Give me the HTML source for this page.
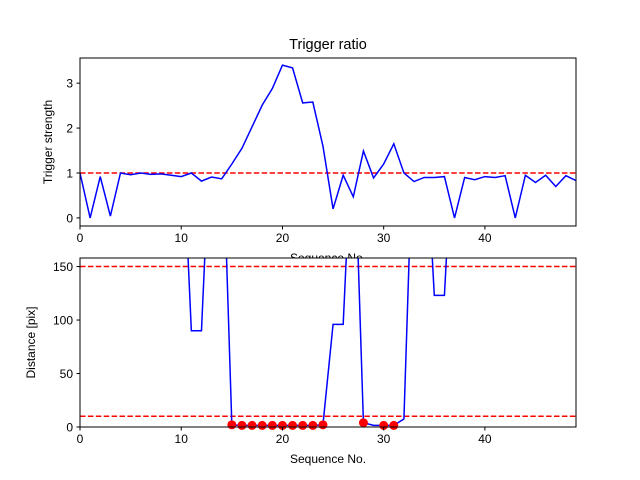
<!DOCTYPE html>
<html><head><meta charset="utf-8"><style>
body{margin:0;background:#fff}
svg{display:block;font-family:"Liberation Sans","DejaVu Sans",sans-serif}
</style></head><body>
<svg id="fig" width="640" height="480"></svg>
<script>
const seqIdx = Array.from({length:50},(_,i)=>i);
const triggerValues = [1.0,0.0,0.92,0.04,1.0,0.96,1.0,0.97,0.98,0.95,0.92,1.0,0.82,0.91,0.87,1.2,1.55,2.03,2.51,2.88,3.4,3.34,2.56,2.58,1.6,0.2,0.95,0.47,1.49,0.89,1.2,1.65,1.0,0.81,0.9,0.9,0.92,0.0,0.9,0.85,0.92,0.9,0.94,0.0,0.95,0.79,0.95,0.7,0.94,0.83];
const distanceValues = [300,300,300,300,300,300,300,300,300,300,300,90,90,300,300,2,1.5,1.5,1.5,1.5,1.5,1.5,1.5,1.5,2,96,96,300,4,1.5,1.5,1.5,7.5,300,300,123,123,300,300,300,300,300,300,300,300,300,300,300,300,300];
const markerIdx = [15,16,17,18,19,20,21,22,23,24,28,30,31];
const topYTicks = [0,1,2,3];
const botYTicks = [0,50,100,150];
const xTicks = [0,10,20,30,40];
const triggerThreshold = 1;
const distThresholds = [150,10];

const NS="http://www.w3.org/2000/svg", svg=document.getElementById('fig');
function el(tag,attrs,parent){const e=document.createElementNS(NS,tag);for(const k in attrs)e.setAttribute(k,attrs[k]);(parent||svg).appendChild(e);return e;}
const X0=80,X1=576,xMax=49;
const sx=v=>X0+(v/xMax)*(X1-X0);

function axes(name,top,bot,yMin,yMax,yTicks,values,thresholds,xlabel,ylabel,markers){
  const sy=v=>bot-(v-yMin)/(yMax-yMin)*(bot-top);
  const g=el('g',{});
  
  
  el('rect',{x:X0,y:top,width:X1-X0,height:bot-top,fill:'#fff'},g);
  const cp=el('clipPath',{id:'cp'+name},g);
  el('rect',{x:X0,y:top,width:X1-X0,height:bot-top},cp);
  const inner=el('g',{'clip-path':'url(#cp'+name+')'},g);
  thresholds.forEach(t=>{
    const l=el('line',{x1:X0,x2:X1,y1:sy(t),y2:sy(t),stroke:'#f00','stroke-width':1.5,'stroke-dasharray':'5.5,2.4'},inner);
    
    
  });
  const pts=values.map((v,i)=>sx(seqIdx[i])+','+sy(v)).join(' ');
  const pl=el('polyline',{points:pts,fill:'none',stroke:'#00f','stroke-width':1.5},inner);
  
  
  (markers||[]).forEach(i=>{
    const c=el('circle',{cx:sx(i),cy:sy(values[i]),r:4.5,fill:'#f00'},g);
    
    
  });
  el('rect',{x:X0,y:top,width:X1-X0,height:bot-top,fill:'none',stroke:'#000','stroke-width':1},g);
  xTicks.forEach(t=>{
    el('line',{x1:sx(t),x2:sx(t),y1:bot,y2:bot+3.5,stroke:'#000'},g);
    const tx=el('text',{x:sx(t),y:bot+16,'font-size':12,'text-anchor':'middle'},g);
    tx.textContent=t;
    
    
  });
  yTicks.forEach(t=>{
    el('line',{x1:X0,x2:X0-3.5,y1:sy(t),y2:sy(t),stroke:'#000'},g);
    const tx=el('text',{x:X0-7,y:sy(t)+4.5,'font-size':12,'text-anchor':'end'},g);
    tx.textContent=t;
    
    
  });
  const xl=el('text',{x:(X0+X1)/2,y:bot+36,'font-size':12,'text-anchor':'middle'});
  xl.textContent=xlabel;
  
  
  const yl=el('text',{x:0,y:0,'font-size':12,'text-anchor':'middle',transform:'translate('+(name==='trigger'?52:35)+','+((top+bot)/2)+') rotate(-90)'},g);
  yl.textContent=ylabel;
  
  
  return g;
}
const t=el('text',{x:328,y:49,'font-size':14.5,'text-anchor':'middle'});
t.textContent='Trigger ratio';


axes('trigger',58,226,-0.18,3.56,topYTicks,triggerValues,[triggerThreshold],'Sequence No.','Trigger strength',null);
axes('distance',258,427,0,158,botYTicks,distanceValues,distThresholds,'Sequence No.','Distance [pix]',markerIdx);
</script>
</body></html>
